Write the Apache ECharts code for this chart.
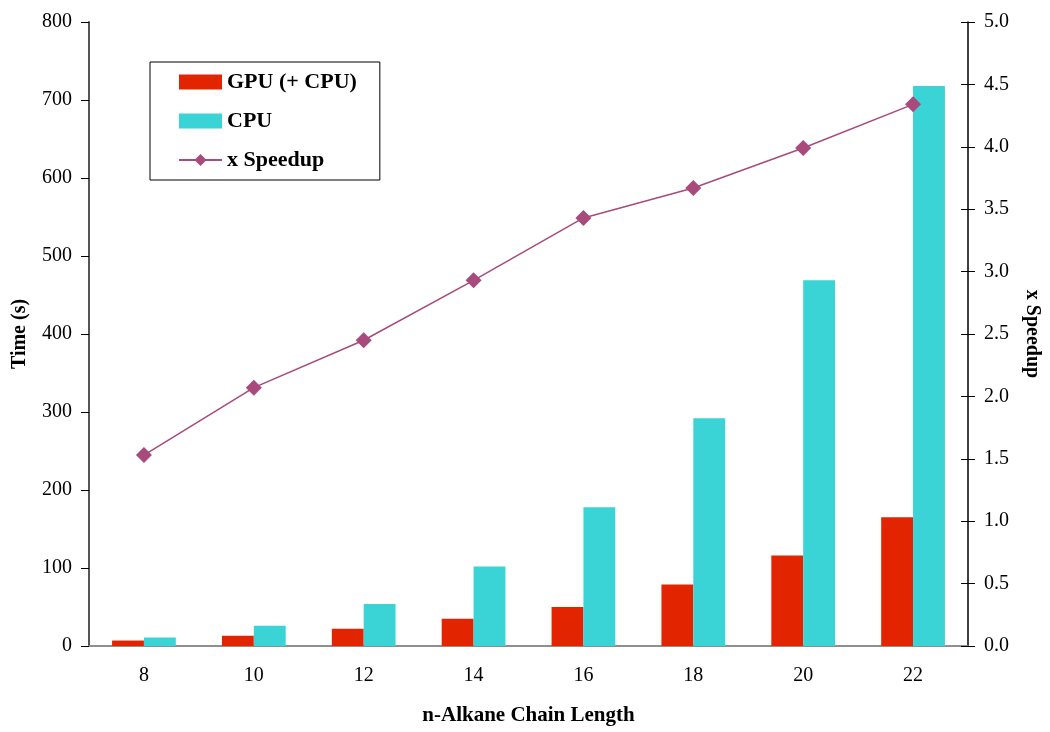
<!DOCTYPE html>
<html>
<head>
<meta charset="utf-8">
<script src="https://cdn.jsdelivr.net/npm/echarts@6/dist/echarts.min.js"></script>
<style>
html,body{margin:0;padding:0;background:#fff;}
#chart{width:1050px;height:732px;}
</style>
</head>
<body>
<div id="chart"></div>
<script>
var categories = ['8', '10', '12', '14', '16', '18', '20', '22'];
var gpuTime = [7, 13, 22, 35, 50, 79, 116, 165];
var cpuTime = [11, 26, 54, 102, 178, 292, 469, 718];
var speedup = [1.53, 2.07, 2.45, 2.93, 3.43, 3.67, 3.99, 4.34];
var leftTicks = [0, 800, 100];
var rightTicks = [0, 5, 0.5];

var FONT = '"Liberation Serif", "Times New Roman", serif';
var chart = echarts.init(document.getElementById('chart'));
chart.setOption({
  animation: false,
  backgroundColor: '#fff',
  textStyle: { fontFamily: FONT },
  grid: { left: 89, right: 79, top: 22, bottom: 86, containLabel: false },
  legend: {
    left: 150, top: 62, orient: 'vertical',
    borderColor: '#000', borderWidth: 1,
    padding: [9, 23, 9, 28],
    itemGap: 17, itemWidth: 43, itemHeight: 15,
    textStyle: { fontFamily: FONT, fontSize: 22, fontWeight: 'bold', color: '#000' },
    data: [
      { name: 'GPU (+ CPU)', icon: 'rect' },
      { name: 'CPU', icon: 'rect' },
      { name: 'x Speedup' }
    ]
  },
  xAxis: [{
    type: 'category', data: categories, position: 'bottom',
    axisLine: { lineStyle: { color: '#444', width: 1.5 } },
    axisTick: { length: 6, lineStyle: { color: '#000' } },
    axisLabel: { fontFamily: FONT, fontSize: 20, color: '#000', margin: 20 },
    name: 'n-Alkane Chain Length', nameLocation: 'middle', nameGap: 59,
    nameTextStyle: { fontFamily: FONT, fontSize: 21, fontWeight: 'bold', color: '#000' }
  }, {
    type: 'category', data: categories, position: 'top',
    axisLine: { show: true, lineStyle: { color: '#999', width: 1.5 } },
    axisTick: { show: false }, axisLabel: { show: false }
  }],
  yAxis: [{
    type: 'value', position: 'left', min: leftTicks[0], max: leftTicks[1], interval: leftTicks[2],
    splitLine: { show: false },
    axisLine: { show: true, lineStyle: { color: '#555', width: 2 } },
    axisTick: { show: true, length: 8, lineStyle: { color: '#000' } },
    axisLabel: { fontFamily: FONT, fontSize: 20, color: '#000', margin: 17 },
    name: 'Time (s)', nameLocation: 'middle', nameGap: 59, nameRotate: 90,
    nameTextStyle: { fontFamily: FONT, fontSize: 20, fontWeight: 'bold', color: '#000' }
  }, {
    type: 'value', position: 'right', min: rightTicks[0], max: rightTicks[1], interval: rightTicks[2],
    splitLine: { show: false },
    axisLine: { show: true, lineStyle: { color: '#000', width: 1.5 } },
    axisTick: { show: true, length: 7, lineStyle: { color: '#000' } },
    axisLabel: { fontFamily: FONT, fontSize: 20, color: '#000', margin: 16, formatter: function (v) { return v.toFixed(1); } },
    name: 'x Speedup', nameLocation: 'middle', nameGap: 54, nameRotate: -90,
    nameTextStyle: { fontFamily: FONT, fontSize: 20, fontWeight: 'bold', color: '#000' }
  }, {
    type: 'value', position: 'right', min: rightTicks[0], max: rightTicks[1], interval: rightTicks[2],
    splitLine: { show: false },
    axisLine: { show: false },
    axisTick: { show: true, inside: true, length: 7, lineStyle: { color: '#000' } },
    axisLabel: { show: false }
  }],
  series: [{
    name: 'GPU (+ CPU)', type: 'bar', data: gpuTime, yAxisIndex: 0,
    itemStyle: { color: '#E32400' }, barGap: '0%', barCategoryGap: '42%'
  }, {
    name: 'CPU', type: 'bar', data: cpuTime, yAxisIndex: 0,
    itemStyle: { color: '#3AD4D6' }, barGap: '0%', barCategoryGap: '42%'
  }, {
    name: 'x Speedup', type: 'line', data: speedup, yAxisIndex: 1,
    symbol: 'diamond', symbolSize: 16,
    lineStyle: { color: '#A84A7B', width: 1.5 },
    itemStyle: { color: '#A84A7B' }
  }]
});
</script>
</body>
</html>
